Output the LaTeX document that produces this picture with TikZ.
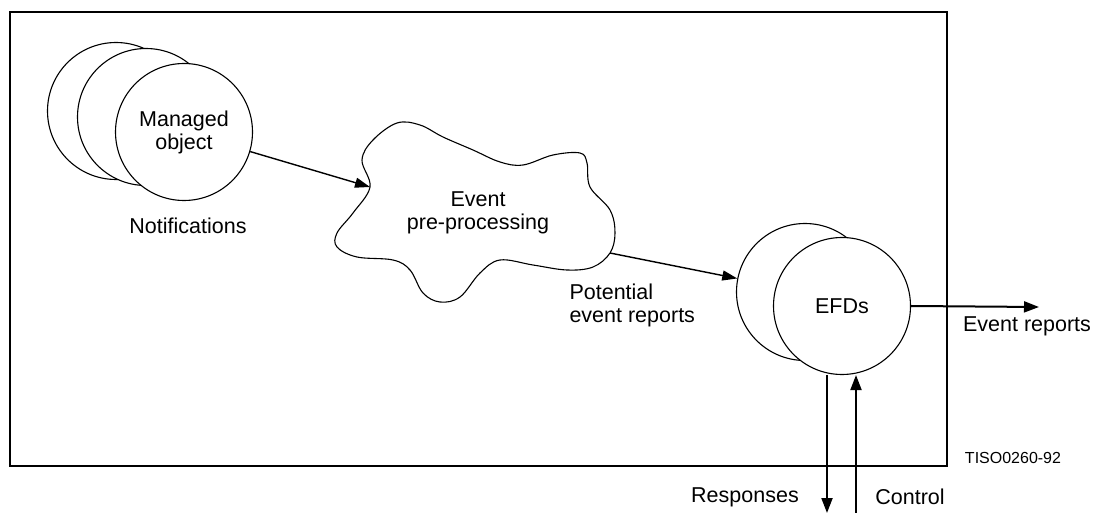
\documentclass[tikz,border=0pt]{standalone}
\usepackage{fontspec}
\setmainfont{Liberation Sans}
\usetikzlibrary{arrows.meta}
\tikzset{
        obj/.style={circle,draw,fill=white,line width=1.1pt,inner sep=0pt,minimum size=137pt},
        flow/.style={line width=1.4pt,-{Triangle[length=15pt,width=10pt]}},
        bigflow/.style={line width=2pt,-{Triangle[length=15pt,width=11pt]}},
        lbl/.style={font=\fontsize{21.5}{23}\selectfont,align=center}
    }

\begin{document}
\begin{tikzpicture}[x=1pt,y=-1pt]
\useasboundingbox (0,0) rectangle (1093,513);

\draw[line width=1.2pt] (10,12) rectangle (947,466);

\draw (116,111) node(MOA)[obj]{};
\draw (146,117) node(MOB)[obj]{};
\draw (184,132) node(MO)[obj,lbl]{Managed\\object};
\draw (188,226) node(NOTE)[lbl]{Notifications};

% event pre-processing cloud
\draw[line width=1.1pt] plot[smooth cycle,tension=0.6] coordinates {
  (370,187) (362,160) (373,140) (397,123) (420,125) (443,137) (473,150)
  (500,162) (523,165) (553,155) (580,153) (587,163) (590,187) (610,210)
  (615,233) (610,253) (593,267) (567,270) (533,265) (500,260) (480,273)
  (460,297) (440,302) (423,293) (410,270) (393,260) (357,257) (337,247)
  (337,233) (353,213)};
\draw (478,213) node(EPP)[lbl]{Event\\pre-processing};
\coordinate (EPPIN) at (370,187);
\coordinate (EPPOUT) at (610,253);

\draw (805,292) node(EFDA)[obj]{};
\draw (842,306) node(EFD)[obj,lbl]{EFDs};

\draw (566,305) node(PER)[lbl,align=left,anchor=west]{Potential\\event reports};
\draw (1027,326) node(ER)[lbl]{Event reports};
\draw (745,497) node(RSP)[lbl]{Responses};
\draw (910,497) node(CTL)[lbl]{Control};
\draw (1013,458) node(TAG)[font=\fontsize{16}{18}\selectfont]{TISO0260-92};

\coordinate (EROUT) at (1039,307);
\coordinate (RSPEND) at (827,513);
\coordinate (CTLEND) at (856,513);

\draw[flow] (MO) -- (EPPIN);
\draw[flow] (EPPOUT) -- (EFDA);
\draw[bigflow] (EFD.east) -- (EROUT);
\draw[bigflow] (EFD.south -| RSPEND) -- (RSPEND);
\draw[bigflow] (CTLEND) -- (EFD.south -| CTLEND);

%\draw[flow,dashed] (EPP) -- (EFD);

\end{tikzpicture}
\end{document}
